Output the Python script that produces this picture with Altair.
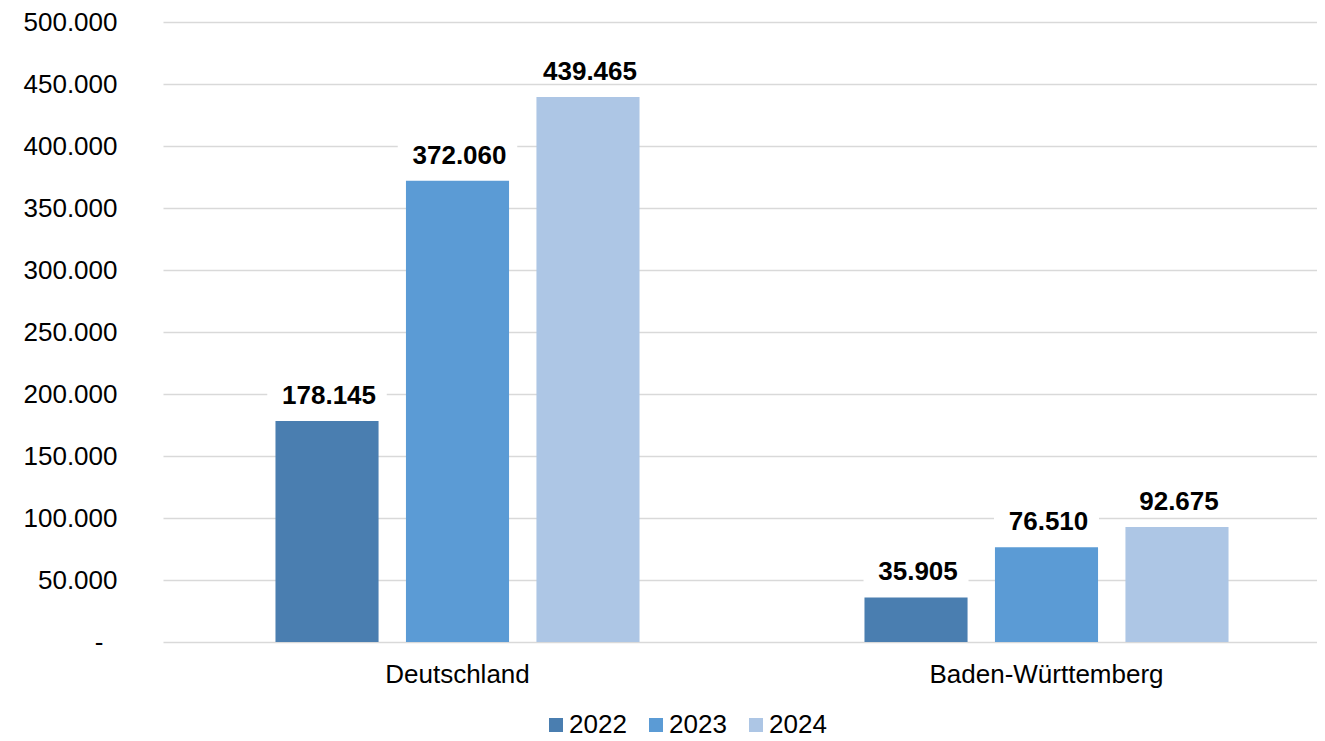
import altair as alt
import pandas as pd

regions = ["Deutschland", "Baden-Württemberg"]
years = ["2022", "2023", "2024"]
values_de = [178145, 372060, 439465]
values_bw = [35905, 76510, 92675]
colors = ["#4A7EB0", "#5B9BD5", "#ADC6E5"]
y_ticks = [0, 50000, 100000, 150000, 200000, 250000, 300000, 350000, 400000, 450000, 500000]

rows = []
for region, vals in zip(regions, [values_de, values_bw]):
    for yr, v in zip(years, vals):
        rows.append({"region": region, "year": yr, "value": v})
df = pd.DataFrame(rows)

FONT = "Liberation Sans"
PLOT_H = 620
UNIT_PER_PX = 500000 / PLOT_H

y_scale = alt.Scale(domain=[0, 500000], nice=False, zero=True)
y_axis = alt.Axis(
    title=None, values=y_ticks, ticks=False, domain=False, grid=True,
    gridColor="#D9D9D9", gridWidth=1.5,
    labelFontSize=26, labelColor="black", labelFont=FONT,
    labelPadding={"condition": {"test": "datum.value === 0", "value": 60}, "value": 46},
    labelExpr="datum.value == 0 ? '-' : replace(format(datum.value, ',d'), ',', '.')",
)

base = alt.Chart(df).transform_calculate(
    label="replace(format(datum.value, ',d'), ',', '.')"
).encode(
    x=alt.X(
        "region:N",
        sort=regions,
        scale=alt.Scale(range=[0, 1178], paddingInner=0, paddingOuter=0),
        axis=alt.Axis(
            title=None, labelAngle=0, ticks=False, domain=False, grid=False,
            labelFontSize=26, labelPadding=19, labelColor="black", labelFont=FONT,
            labelLimit=500,
        ),
    ),
    xOffset=alt.XOffset("year:N", sort=years,
                        scale=alt.Scale(paddingInner=0.21, paddingOuter=0.862)),
)

boxes = base.transform_calculate(
    lo=f"datum.value + {14 * UNIT_PER_PX}",
    hi=f"datum.value + {40 * UNIT_PER_PX}",
    boxw="length(datum.label) * 14.5 + 18",
).mark_bar(color="white").encode(
    y=alt.Y("lo:Q", scale=y_scale, axis=y_axis),
    y2="hi:Q",
    size=alt.Size("boxw:Q", scale=None, legend=None),
)

bars = base.mark_bar().encode(
    y=alt.Y("value:Q", scale=y_scale, axis=y_axis),
    color=alt.Color(
        "year:N",
        sort=years,
        scale=alt.Scale(domain=years, range=colors),
        legend=alt.Legend(
            title=None, orient="none", direction="horizontal",
            legendX=380, legendY=690,
            symbolType="square", symbolSize=196, symbolStrokeWidth=0,
            labelFontSize=26, labelFont=FONT, labelColor="black",
            columnPadding=16, labelOffset=0,
        ),
    ),
)

text = base.mark_text(
    fontSize=26, fontWeight="bold", font=FONT, baseline="alphabetic",
    dy=-17, dx=2, color="black",
).encode(
    y=alt.Y("value:Q", scale=y_scale, axis=y_axis),
    text="label:N",
)

chart = alt.layer(boxes, bars, text).properties(
    width=1154,
    height=PLOT_H,
    autosize=alt.AutoSizeParams(type="none"),
    padding={"left": 155, "top": 14, "right": 0, "bottom": 99},
    background="white",
).configure_view(stroke=None)

chart.save("out.html", embed_options={"renderer": "svg", "actions": False})
